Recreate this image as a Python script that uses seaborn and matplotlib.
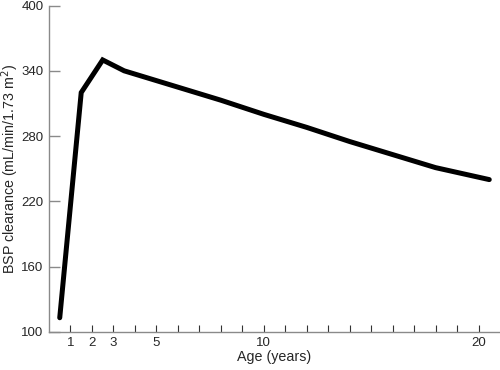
import matplotlib
matplotlib.use("Agg")
import matplotlib.pyplot as plt
import seaborn as sns
import pandas as pd

age = [0.5, 1.5, 2.5, 3.5, 4.5, 6, 8, 10, 12, 14, 16, 18, 20.5]
clearance = [113, 320, 350, 340, 334, 325, 313, 300, 288, 275, 263, 251, 240]
x_ticks = list(range(1, 21))
x_labeled = {1: "1", 2: "2", 3: "3", 5: "5", 10: "10", 20: "20"}
y_ticks = [100, 160, 220, 280, 340, 400]

sns.set_theme(style="white")
plt.rcParams['font.family'] = ['Liberation Sans', 'DejaVu Sans']

df = pd.DataFrame({"age": age, "clearance": clearance})

fig = plt.figure(figsize=(5, 3.7), dpi=100)
ax = fig.add_axes([0.098, 0.103, 0.902, 0.882])
sns.lineplot(data=df, x="age", y="clearance", ax=ax, color="black", linewidth=3.6,
             solid_joinstyle="miter")

ax.set_xlim(0, 21)
ax.set_ylim(100, 400)
ax.set_xticks(x_ticks)
ax.set_xticklabels([x_labeled.get(t, "") for t in x_ticks])
ax.set_yticks(y_ticks)
ax.set_yticklabels([str(v) for v in y_ticks])

gray = "#8a8a8a"
for s in ["top", "right"]:
    ax.spines[s].set_visible(False)
for s in ["left", "bottom"]:
    ax.spines[s].set_color(gray)
    ax.spines[s].set_linewidth(1.0)

ax.tick_params(axis="y", direction="in", length=8, width=1, color=gray, labelsize=9.5, pad=4)
ax.tick_params(axis="x", direction="in", length=5, width=0.8, color="#333333", labelsize=9.5, pad=3.5)
ax.tick_params(left=True, bottom=True)

ax.set_xlabel("Age (years)", fontsize=10.3, labelpad=1)
ax.set_ylabel("BSP clearance (mL/min/1.73 m$^2$)", fontsize=10.3, va="center")
ax.yaxis.set_label_coords(-0.086, 0.5)

fig.savefig("out.png", dpi=100)
